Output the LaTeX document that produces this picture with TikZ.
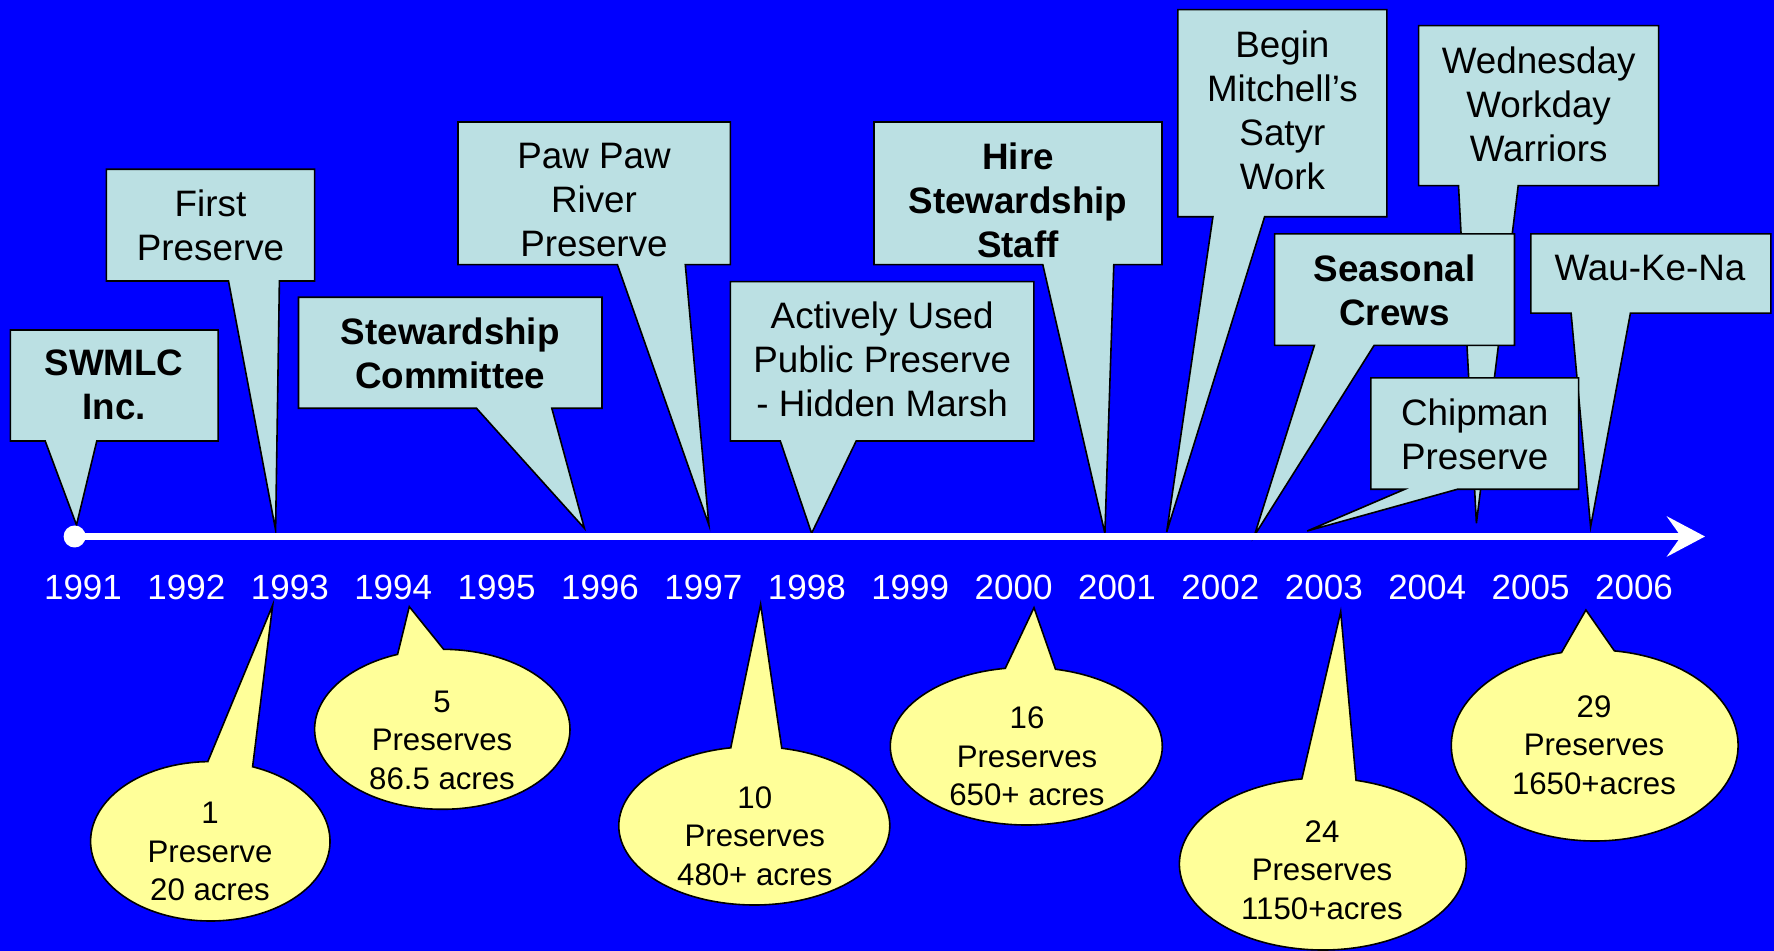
\documentclass[tikz,border=0pt]{standalone}
\usepackage{fontspec}
\setmainfont{Liberation Sans}
\usetikzlibrary{arrows.meta,calc}
\definecolor{bgblue}{RGB}{0,0,255}
\definecolor{boxfill}{HTML}{BBE0E3}
\definecolor{bubfill}{HTML}{FFFF99}
\tikzset{
 boxshape/.style={fill=boxfill, draw=black, line width=0.8pt},
 bubshape/.style={fill=bubfill, draw=black, line width=0.8pt},
 boxtext/.style={align=center, font=\fontsize{18.4pt}{22pt}\selectfont, inner sep=0pt},
 boldtext/.style={boxtext, font=\fontsize{18.4pt}{22pt}\selectfont\bfseries},
 bubtext/.style={align=center, font=\fontsize{15.6pt}{19.25pt}\selectfont, inner sep=0pt},
 yeartext/.style={text=white, font=\fontsize{17.5pt}{21pt}\selectfont, anchor=base, inner sep=0pt},
 axisline/.style={white, line width=3.25pt, -{Stealth[length=19pt,width=20pt,inset=7pt]}},
}
% L R T B baseL baseR tipx tipy
\newcommand\boxcall[8]{\draw[boxshape] (#1,#3) -- (#2,#3) -- (#2,#4) -- (#6,#4) -- (#7,#8) -- (#5,#4) -- (#1,#4) -- cycle;}
% cx cy rx ry tA tB tipx tipy endangle
\newcommand\bubcall[9]{\draw[bubshape] ($(#1,#2)+(#5:#3 and #4)$) -- (#7,#8) -- ($(#1,#2)+(#6:#3 and #4)$) arc[start angle=#6, end angle=#9, x radius=#3, y radius=#4] -- cycle;}
\begin{document}
\begin{tikzpicture}[x=0.5pt,y=-0.5pt]
\fill[bgblue] (0,0) rectangle (1774,951);
\useasboundingbox (0,0) rectangle (1774,951);

% top callouts
\boxcall{10.3}{218.1}{330}{441}{45.2}{96.8}{76.5}{525}
\node[boldtext] (t1) at (114,385) {SWMLC\\Inc.};
\boxcall{106.4}{314.6}{169.3}{281}{228.5}{279.4}{275.6}{530}
\node[boxtext] (t2) at (210.5,225.7) {First\\Preserve};
\boxcall{298.5}{602}{297.3}{408.3}{476.5}{551.8}{584.4}{528.3}
\node[boldtext] (t3) at (450.3,353.5) {Stewardship\\Committee};
\boxcall{458}{730.4}{122}{264.7}{617.4}{685.3}{708.9}{525}
\node[boxtext] (t4) at (594,200) {Paw Paw\\River\\Preserve};
\boxcall{730.4}{1033.9}{281.7}{441}{780.3}{856.2}{811.6}{533.3}
\node[boxtext] (t5) at (882.2,359.8) {Actively Used\\Public Preserve\\- Hidden Marsh};
\boxcall{874}{1162}{122}{264.7}{1042.8}{1113.8}{1104.9}{533.3}
\node[boldtext] (t6) at (1018,200) {Hire\\Stewardship\\Staff};
\boxcall{1177.9}{1386.8}{9.6}{216.8}{1212.9}{1264.6}{1166.7}{532}
\node[boxtext] (t7) at (1282.4,110.8) {Begin\\Mitchell’s\\Satyr\\Work};
\boxcall{1418.6}{1658.6}{25.7}{185.7}{1458.5}{1518.2}{1476.4}{523.2}
\node[boxtext] (t8) at (1538.6,104) {Wednesday\\Workday\\Warriors};
\boxcall{1274.6}{1514.5}{233.9}{345.4}{1314.4}{1374.1}{1254.3}{535.7}
\node[boldtext] (t9) at (1394.5,290) {Seasonal\\Crews};
\boxcall{1530.9}{1770.9}{233.9}{313.2}{1571.1}{1630.4}{1590.6}{526.8}
\node[boxtext] (t10) at (1650,268) {Wau-Ke-Na};
\boxcall{1370.9}{1578.6}{377.9}{489.3}{1404.7}{1457.3}{1307.2}{531}
\node[boxtext] (t11) at (1474.7,434) {Chipman\\Preserve};

% axis
\coordinate (axstart) at (74.6,536.5);
\coordinate (axend) at (1705,536.5);
\draw[axisline] (axstart) -- (axend);
\fill[white] (axstart) circle (11);

% years
\foreach \yr [count=\i from 0] in {1991,...,2006}
  \node[yeartext] (yr\yr) at ({83+103.4*\i},600) {\yr};

% bottom bubbles
\bubcall{210.3}{841.3}{119.7}{79.7}{-91.2}{-69.3}{272.7}{605}{268.8}
\node[bubtext] (n1) at (210,851.7) {1\\Preserve\\20 acres};
\bubcall{442.3}{729.3}{127.7}{80}{-110.5}{-89.4}{409.3}{606.7}{249.5}
\node[bubtext] (n2) at (442,740) {5\\Preserves\\86.5 acres};
\bubcall{754.3}{825.8}{135.5}{79.2}{-100}{-78.3}{760.6}{604.3}{260}
\node[bubtext] (n3) at (754.8,836) {10\\Preserves\\480+ acres};
\bubcall{1026.3}{746.2}{136}{78.8}{-98.9}{-77.6}{1034}{607.7}{261.1}
\node[bubtext] (n4) at (1027,756.7) {16\\Preserves\\650+ acres};
\bubcall{1322.8}{864}{143.4}{86}{-98.4}{-76.6}{1340.7}{611.7}{261.6}
\node[bubtext] (n5) at (1322,870) {24\\Preserves\\1150+acres};
\bubcall{1594.7}{745.5}{143.4}{95.5}{-103.4}{-82.1}{1585.9}{610}{256.6}
\node[bubtext] (n6) at (1594,745) {29\\Preserves\\1650+acres};
\end{tikzpicture}
\end{document}
